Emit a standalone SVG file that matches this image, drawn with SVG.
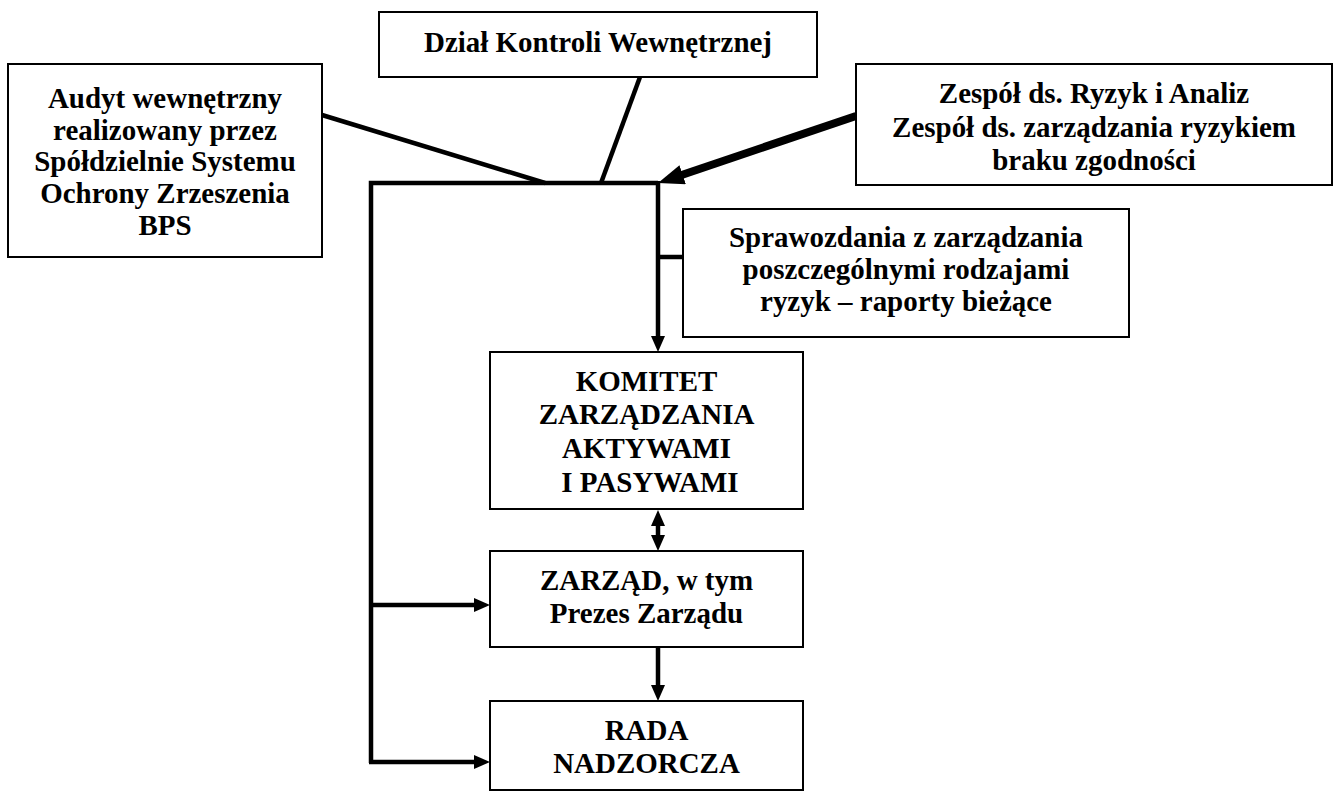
<svg xmlns="http://www.w3.org/2000/svg" width="1341" height="792" viewBox="0 0 1341 792">
<style>
.box{fill:#fff;stroke:#000;stroke-width:2}
.t{font-family:"Liberation Serif","Times New Roman",serif;font-weight:bold;font-size:30.5px;text-anchor:middle;fill:#000}
.c{fill:none;stroke:#000;stroke-width:4.5}
.ca{fill:none;stroke:#000;stroke-width:4.5;marker-end:url(#ah)}
</style>
<defs>
<marker id="ah" viewBox="0 0 16 14" refX="8" refY="7" markerWidth="16" markerHeight="14" markerUnits="userSpaceOnUse" orient="auto-start-reverse">
<path d="M0,0 L16,7 L0,14 z" fill="#000"/>
</marker>
<marker id="ahbig" viewBox="0 0 26 20" refX="12" refY="10" markerWidth="26" markerHeight="20" markerUnits="userSpaceOnUse" orient="auto">
<path d="M0,0 L26,10 L0,20 z" fill="#000"/>
</marker>
</defs>
<rect width="1341" height="792" fill="#fff"/>
<g id="connectors">
<polyline class="c" points="658,183 371,183 371,763"/>
<line class="c" x1="322" y1="115" x2="545" y2="183"/>
<line class="c" x1="640" y1="77" x2="601" y2="183"/>
<line fill="none" stroke="#000" stroke-width="8" x1="856" y1="116" x2="671.3" y2="178.5" marker-end="url(#ahbig)"/>
<line class="ca" x1="658" y1="181" x2="658" y2="344"/>
<line class="c" x1="658" y1="257" x2="683" y2="257"/>
<line class="ca" x1="658" y1="518" x2="658" y2="543" style="marker-start:url(#ah)"/>
<line class="ca" x1="658" y1="647" x2="658" y2="693"/>
<line class="ca" x1="369" y1="605" x2="482" y2="605"/>
<line class="ca" x1="369" y1="762" x2="482" y2="762"/>
</g>
<g id="dzial">
<rect class="box" x="379" y="12" width="438" height="65"/>
<text class="t" transform="translate(598,52) scale(0.95,1)">Dział Kontroli Wewnętrznej</text>
</g>
<g id="audyt">
<rect class="box" x="8" y="64" width="314" height="193"/>
<text class="t" transform="translate(165,108) scale(0.95,1)">Audyt wewnętrzny</text>
<text class="t" transform="translate(165,140) scale(0.95,1)">realizowany przez</text>
<text class="t" transform="translate(165,171) scale(0.95,1)">Spółdzielnie Systemu</text>
<text class="t" transform="translate(165,203) scale(0.95,1)">Ochrony Zrzeszenia</text>
<text class="t" transform="translate(165,235) scale(0.95,1)">BPS</text>
</g>
<g id="zespol">
<rect class="box" x="856" y="64" width="476" height="121"/>
<text class="t" transform="translate(1094,103) scale(0.95,1)">Zespół ds. Ryzyk i Analiz</text>
<text class="t" transform="translate(1094,137) scale(0.95,1)">Zespół ds. zarządzania ryzykiem</text>
<text class="t" transform="translate(1094,170) scale(0.95,1)">braku zgodności</text>
</g>
<g id="sprawozdania">
<rect class="box" x="683" y="209" width="446" height="128"/>
<text class="t" transform="translate(906,247) scale(0.95,1)">Sprawozdania z zarządzania</text>
<text class="t" transform="translate(906,279) scale(0.95,1)">poszczególnymi rodzajami</text>
<text class="t" transform="translate(906,311) scale(0.95,1)">ryzyk – raporty bieżące</text>
</g>
<g id="komitet">
<rect class="box" x="490" y="352" width="313" height="157"/>
<text class="t" transform="translate(646.5,391) scale(0.95,1)">KOMITET</text>
<text class="t" transform="translate(646.5,424) scale(0.95,1)">ZARZĄDZANIA</text>
<text class="t" transform="translate(646.5,458) scale(0.95,1)">AKTYWAMI</text>
<text class="t" transform="translate(650,492) scale(0.95,1)">I PASYWAMI</text>
</g>
<g id="zarzad">
<rect class="box" x="490" y="551" width="313" height="96"/>
<text class="t" transform="translate(646.5,590) scale(0.95,1)">ZARZĄD, w tym</text>
<text class="t" transform="translate(646.5,623) scale(0.95,1)">Prezes Zarządu</text>
</g>
<g id="rada">
<rect class="box" x="490" y="701" width="313" height="89"/>
<text class="t" transform="translate(646.5,740) scale(0.95,1)">RADA</text>
<text class="t" transform="translate(646.5,773) scale(0.95,1)">NADZORCZA</text>
</g>
</svg>
